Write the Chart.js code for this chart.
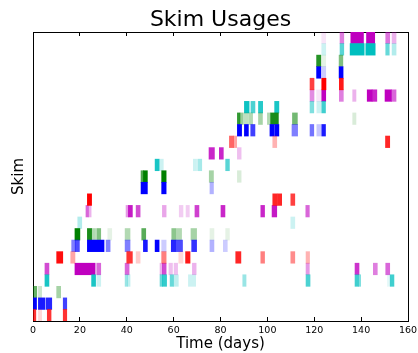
<!DOCTYPE html>
<html><head><meta charset="utf-8">
<script src="https://cdn.jsdelivr.net/npm/chart.js@4.4.0/dist/chart.umd.min.js"></script>
<style>html,body{margin:0;padding:0;background:#fff}#wrap{width:418px;height:353px}</style>
</head><body><div id="wrap"><canvas id="c" width="418" height="353"></canvas></div>
<script>
const xTickValues = [0, 20, 40, 60, 80, 100, 120, 140, 160];
const rowCount = 25;
// each mark: [row, startDay, endDay, intensity]
const redMarks = [
  [0,0,1.2,0.8],[0,2.3,3.7,0.15],[0,6.1,7.7,0.8],[0,12.9,14.4,0.8],
  [5,10.1,12.7,0.95],[5,16.1,17.9,0.35],[5,40,42.4,0.8],[5,44,45.7,0.2],[5,54.9,56.8,0.5],[5,62.2,64,0.15],[5,65.1,67,0.9],[5,86.5,88.7,0.85],[5,97.2,98.8,0.5],[5,110,111.7,0.45],[5,116.5,118,0.3],
  [10,23.2,25,1],[10,102.3,104.1,0.85],[10,104.3,106.1,0.85],[10,110,111.7,0.75],
  [15,83.8,85.5,0.6],[15,85.5,86.9,0.35],[15,102.3,104,0.3],[15,150.4,152.2,0.85],
  [20,118.2,119.9,0.75],[20,123.2,125,1],[20,130.7,132.4,0.9]
];
const blueMarks = [
  [1,0,1.5,1],[1,2.3,5.1,0.9],[1,5.6,8,0.85],[1,12.9,14.4,0.75],
  [6,16.5,18,0.5],[6,18,19.8,0.7],[6,23.2,30.3,1],[6,31.2,32.9,0.5],[6,39.3,41.4,0.5],[6,47.1,48.8,0.9],[6,52.1,53.8,1],[6,54.9,56.8,0.2],[6,59,61.1,0.85],[6,61.3,63.8,0.7],[6,67.7,69.8,0.8],[6,75.5,77.2,0.3],[6,81.2,82.9,0.2],
  [11,46.1,48.8,1],[11,54.9,56.8,1],[11,75.5,77,0.3],
  [16,87.2,89,1],[16,90.2,91.9,1],[16,92.9,94.7,0.75],[16,101.1,102.8,1],[16,103.1,104.9,1],[16,110.5,112.9,0.5],[16,118.2,119.8,0.55],[16,121.1,122.8,0.22],[16,123.2,124.8,0.9],
  [21,121,122.8,1],[21,123.2,124.9,0.2],[21,130.6,132.3,1]
];
const greenMarks = [
  [2,0,1.6,0.6],[2,2.3,3.7,0.2],[2,10.1,11.8,0.35],
  [7,17.9,20,1],[7,23.2,25,0.9],[7,25,26.7,0.3],[7,27.2,28.9,0.5],[7,31.9,33.6,0.1],[7,39.3,41.4,0.3],[7,46.4,48.1,0.65],[7,59.2,61,0.45],[7,61.3,63.4,0.3],[7,67.4,69.8,0.35],[7,75.5,77.2,0.1],[7,82.2,83.8,0.1],
  [12,46.1,47.1,0.7],[12,47.1,48.8,1],[12,54.9,56.8,1],[12,75.2,77,0.35],[12,87.2,88.8,0.15],
  [17,87.2,88.3,0.8],[17,88.3,89.5,0.4],[17,89.8,91.9,0.25],[17,92.2,93.7,0.3],[17,96.2,97.9,0.35],[17,100,101.4,0.3],[17,101.4,104.7,0.9],[17,110.7,112.8,0.55],[17,136.4,137.8,0.15],
  [22,121,122.8,0.85],[22,123.2,124.9,0.1],[22,130.6,132.2,0.5]
];
const cyanMarks = [
  [3,5.1,6.8,0.9],[3,25,26.7,0.9],[3,27.2,28.9,0.2],[3,39.3,40.3,0.4],[3,40.3,41.4,0.25],[3,54.2,55.2,0.6],[3,55.2,57,0.8],[3,58.5,59.9,0.6],[3,59.9,62,0.25],[3,66.3,69.4,0.2],[3,89.5,90.9,0.4],[3,116.5,118.2,0.7],[3,137.4,138.8,0.75],[3,138.8,139.8,0.5],[3,151.2,152.4,0.1],[3,152.4,154,0.75],
  [8,19.1,20.8,0.3],[8,110,111.7,0.2],
  [13,52.1,53.8,0.9],[13,53.9,55.6,0.2],[13,68.4,69.8,0.2],[13,70.3,72,0.35],[13,82.2,83.8,0.65],
  [18,90.2,92.2,0.95],[18,93,94.7,0.7],[18,96.2,98,0.85],[18,103.1,104.9,0.9],[18,118.2,119.8,0.5],[18,121.1,122.8,0.2],[18,123.2,124.8,0.75],
  [23,123.2,124.9,0.2],[23,131,132.6,0.65],[23,135.3,141.3,1],[23,142,146,1],[23,150.5,152,0.6],[23,153.2,154.9,0.3]
];
const magentaMarks = [
  [4,5.1,6.8,0.7],[4,17.9,26.5,1],[4,27.2,28.9,0.6],[4,39.3,41,0.6],[4,54.2,55.2,0.3],[4,55.2,56.8,0.7],[4,58,59.5,0.25],[4,60.2,61.7,0.25],[4,68,69.6,0.3],[4,116.5,117.9,0.4],[4,137.4,139.1,0.8],[4,145.2,146.9,0.5],[4,150.5,152.2,0.6],
  [9,22.6,23.6,0.6],[9,23.6,24.8,0.3],[9,39.7,40.7,0.4],[9,40.7,42.4,0.9],[9,44,45.7,0.7],[9,55.2,56.8,0.35],[9,62.4,64,0.2],[9,65.3,66.7,0.2],[9,69.1,70.8,0.75],[9,80.2,81.9,0.85],[9,97.2,98.8,0.85],[9,102,104,0.9],[9,116.4,117.9,0.6],
  [14,75.1,77.4,0.85],[14,79.5,81.2,0.85],[14,87.2,88.8,0.25],
  [19,118.2,119.9,0.45],[19,121,122.8,0.1],[19,123.2,124.9,1],[19,130.7,132.4,0.5],[19,136.4,137.8,0.3],[19,142.6,144.7,1],[19,144.7,146.7,0.85],[19,150.2,152.9,1],[19,152.9,154.9,0.6],
  [24,123.2,124.9,0.1],[24,131,132.6,0.5],[24,135.6,141,1],[24,142.3,145.8,1],[24,150.5,152.2,0.55],[24,153.2,154.9,0.3]
];

const seriesDefs = [
  {name: 'r', rgb: '255,0,0', marks: redMarks},
  {name: 'b', rgb: '0,0,255', marks: blueMarks},
  {name: 'g', rgb: '0,128,0', marks: greenMarks},
  {name: 'c', rgb: '0,191,191', marks: cyanMarks},
  {name: 'm', rgb: '191,0,191', marks: magentaMarks}
];

const FONT = 'DejaVu Sans';
const datasets = seriesDefs.map(s => ({
  label: s.name,
  data: s.marks.map(m => ({y: m[0] + 0.5, x: [m[1], m[2]], a: m[3]})),
  backgroundColor: ctx => ctx.raw ? `rgba(${s.rgb},${ctx.raw.a})` : `rgb(${s.rgb})`,
  borderWidth: 0,
  grouped: false,
  barPercentage: 1,
  categoryPercentage: 1
}));

const zeroPad = sc => { sc.paddingLeft = 0; sc.paddingRight = 0; };

new Chart(document.getElementById('c'), {
  type: 'bar',
  data: {datasets},
  options: {
    indexAxis: 'y',
    responsive: false,
    devicePixelRatio: 1,
    animation: false,
    layout: {padding: {left: 0, right: 0, top: 0, bottom: 0}},
    plugins: {
      legend: {display: false},
      tooltip: {enabled: false},
      title: {
        display: true, text: 'Skim Usages', color: '#000', fullSize: false,
        font: {family: FONT, size: 22, weight: 'normal', lineHeight: 1.2},
        padding: {top: 7.5, bottom: -1.9}
      }
    },
    scales: {
      x: {
        type: 'linear', position: 'bottom', min: 0, max: 160,
        afterBuildTicks: sc => { sc.ticks = xTickValues.map(v => ({value: v})); },
        ticks: {color: '#000', font: {family: FONT, size: 9.5}, padding: 7.5, maxRotation: 0, autoSkip: false},
        grid: {drawOnChartArea: false, drawTicks: true, tickLength: -4, color: '#000', lineWidth: 1},
        border: {display: true, color: '#000', width: 1},
        title: {display: true, text: 'Time (days)', color: '#000', font: {family: FONT, size: 15, lineHeight: 1.2}, padding: {top: 0, bottom: 0}},
        afterFit: sc => { sc.height = 32; zeroPad(sc); }
      },
      x2: {
        type: 'linear', position: 'top', min: 0, max: 160,
        afterBuildTicks: sc => { sc.ticks = xTickValues.map(v => ({value: v})); },
        ticks: {display: false},
        grid: {drawOnChartArea: false, drawTicks: true, tickLength: -4, color: '#000', lineWidth: 1},
        border: {display: true, color: '#000', width: 1},
        afterFit: sc => { sc.height = 0; zeroPad(sc); }
      },
      y: {
        type: 'linear', position: 'left', min: 0, max: rowCount, offset: false,
        ticks: {display: false},
        grid: {display: false},
        border: {display: true, color: '#000', width: 1},
        title: {display: true, text: 'Skim', color: '#000', font: {family: FONT, size: 15, lineHeight: 1.2}, padding: {top: 10, bottom: 0}},
        afterFit: sc => { sc.width = 33; }
      },
      y2: {
        type: 'linear', position: 'right', min: 0, max: rowCount, offset: false,
        ticks: {display: false},
        grid: {display: false},
        border: {display: true, color: '#000', width: 1},
        afterFit: sc => { sc.width = 10; }
      }
    }
  }
});
</script></body></html>
